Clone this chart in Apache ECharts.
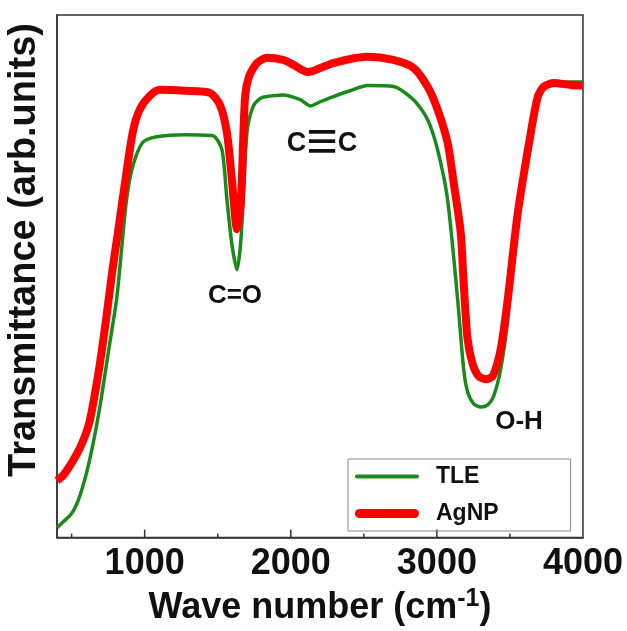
<!DOCTYPE html>
<html><head><meta charset="utf-8">
<script src="https://cdn.jsdelivr.net/npm/echarts@6/dist/echarts.min.js"></script>
<style>html,body{margin:0;padding:0;background:#fff}#c{width:627px;height:631px}</style>
</head><body><div id="c"></div>
<script>
// Wave number (cm-1) and transmittance (arb. units, 0-100 scale)
const tleWave = [400,430,500,554,622,691,760,808,842,876,918,986,1082,1275,1467,1529,1563,1597,1632,1659,1700,1741,1789,1837,1947,2064,2133,2201,2291,2407,2524,2702,2840,2936,3005,3073,3142,3183,3210,3252,3300,3348,3389,3437,3485,3554,3643,3691,3732,3801,3918,4000];
const tleVal  = [1.9,2.7,4.6,7.8,14.7,24.6,37.0,45.6,55.2,64.7,71.0,75.6,76.7,77.1,76.9,74.2,64.7,56.1,51.3,57.1,77.5,82.4,84.0,84.4,84.7,83.8,82.6,83.4,84.4,85.5,86.5,86.3,83.8,80.0,74.2,64.7,45.6,32.3,27.9,25.6,25.0,25.4,27.1,32.3,41.8,62.2,77.5,84.4,86.3,87.0,87.2,87.2];
const agWave = [400,451,554,622,691,739,780,815,849,918,966,1034,1103,1275,1446,1515,1563,1597,1632,1659,1686,1714,1769,1837,1947,2016,2112,2153,2291,2524,2702,2840,2936,3005,3073,3115,3163,3183,3210,3245,3286,3334,3382,3437,3485,3554,3643,3691,3732,3801,3918,4000];
const agVal  = [10.9,12.2,17.0,22.1,32.8,42.4,51.3,58.0,64.7,77.5,81.9,84.5,85.7,85.5,85.1,82.8,77.5,68.5,59.0,64.7,83.8,88.2,90.8,91.8,91.4,90.5,89.1,89.3,90.8,92.0,91.4,89.9,86.3,81.9,75.6,67.9,58.4,48.9,38.0,33.2,30.9,30.3,30.9,36.1,45.6,62.2,77.5,84.4,86.3,87.0,86.6,86.5];
const tickVals = [500,1000,1500,2000,2500,3000,3500];
const xLabels = [1000,2000,3000,4000];
const seriesNames = ['TLE','AgNP'];
const annotations = ['C=O','C\u2261C','O-H'];

const FONT = '"Liberation Sans", Arial, sans-serif';
const zip = (a,b)=>a.map((v,i)=>[v,b[i]]);
const chart = echarts.init(document.getElementById('c'));
chart.setOption({
  animation:false,
  backgroundColor:'#fff',
  grid:{left:57,right:44,top:15,bottom:92,show:true,borderColor:'#333',borderWidth:1.5,backgroundColor:'transparent'},
  xAxis:{type:'value',min:400,max:4000,interval:100,
    axisLine:{show:true,lineStyle:{color:'#333',width:1.5}},
    axisTick:{show:false},splitLine:{show:false},
    axisLabel:{margin:8,fontFamily:FONT,fontWeight:'bold',fontSize:36,color:'#111',
      formatter:v=>xLabels.indexOf(v)>=0?String(v):''},
    name:'Wave number (cm{sup|-1})',nameLocation:'middle',nameGap:48,
    nameTextStyle:{fontFamily:FONT,fontWeight:'bold',fontSize:36,color:'#111',
      rich:{sup:{fontFamily:FONT,fontWeight:'bold',fontSize:25,color:'#111',verticalAlign:'top',padding:[0,0,18,0]}}}
  },
  yAxis:{type:'value',min:0,max:100,
    axisLine:{show:true,lineStyle:{color:'#333',width:1.5}},
    axisTick:{show:false},axisLabel:{show:false},splitLine:{show:false}},
  legend:{
    data:[{name:seriesNames[0],icon:'path://M2,0H62A2,2,0,0,1,62,4H2A2,2,0,0,1,2,0Z'},
          {name:seriesNames[1],icon:'path://M4.5,0H59.5A4.5,4.5,0,0,1,59.5,9H4.5A4.5,4.5,0,0,1,4.5,0Z'}],
    orient:'vertical',left:348,top:459,
    itemWidth:64,itemHeight:20,itemGap:14,padding:[6,72,6,7],
    borderColor:'#888',borderWidth:1,
    textStyle:{fontFamily:FONT,fontWeight:'bold',fontSize:23,color:'#111',padding:[0,0,0,12]}},
  series:[
    {name:seriesNames[0],type:'line',data:zip(tleWave,tleVal),symbol:'none',smooth:0.25,
      lineStyle:{color:'#1a8a1a',width:3.5},itemStyle:{color:'#1a8a1a'}},
    {name:seriesNames[1],type:'line',data:zip(agWave,agVal),symbol:'none',smooth:0.25,
      lineStyle:{color:'#ff0000',width:8},itemStyle:{color:'#ff0000'}},
    {type:'custom',silent:true,data:tickVals,
      renderItem:(params,api)=>{
        const v=api.value(0); const p=api.coord([v,0]);
        const len=(v%1000===0)?8:4;
        return {type:'line',shape:{x1:p[0],y1:p[1],x2:p[0],y2:p[1]-len},style:{stroke:'#333',lineWidth:1.5}};
      },
      encode:{x:0}}
  ],
  graphic:[
    {type:'text',x:25,y:250,rotation:Math.PI/2,style:{text:'Transmittance (arb.units)',font:'bold 38px '+FONT,fill:'#111',textAlign:'center',textVerticalAlign:'middle'}},
    {type:'text',x:235,y:296,style:{text:annotations[0],font:'bold 26px '+FONT,fill:'#111',textAlign:'center',textVerticalAlign:'middle'}},
    {type:'text',x:322,y:144,style:{text:'{c|C}{b|\u2261}{c|C}',textAlign:'center',textVerticalAlign:'middle',
      rich:{c:{fontFamily:FONT,fontWeight:'bold',fontSize:27,fill:'#111',color:'#111'},
            b:{fontFamily:FONT,fontWeight:'normal',fontSize:54,fill:'#111',color:'#111'}}}},
    {type:'text',x:519,y:422,style:{text:annotations[2],font:'bold 26px '+FONT,fill:'#111',textAlign:'center',textVerticalAlign:'middle'}}
  ]
});
</script></body></html>
